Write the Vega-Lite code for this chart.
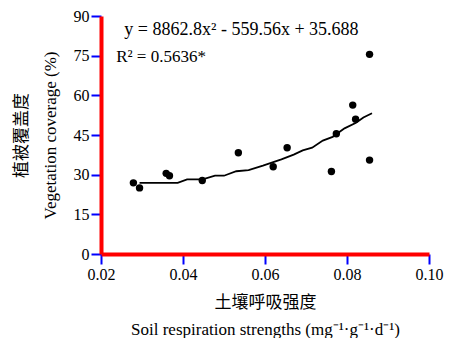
{
  "$schema": "https://vega.github.io/schema/vega-lite/v6.json",
  "width": 328,
  "height": 238,
  "autosize": "none",
  "padding": {"left": 101, "top": 16, "right": 29, "bottom": 84},
  "background": "white",
  "view": {"stroke": null},
  "datasets": {
    "pts": [
      {"x": 0.0279, "y": 26.9},
      {"x": 0.0294, "y": 25.0},
      {"x": 0.0359, "y": 30.5},
      {"x": 0.0367, "y": 29.6},
      {"x": 0.0447, "y": 27.8},
      {"x": 0.0535, "y": 38.3},
      {"x": 0.0620, "y": 33.0},
      {"x": 0.0654, "y": 40.2},
      {"x": 0.0762, "y": 31.2},
      {"x": 0.0774, "y": 45.5},
      {"x": 0.0814, "y": 56.3},
      {"x": 0.0821, "y": 51.0},
      {"x": 0.0855, "y": 75.5},
      {"x": 0.0855, "y": 35.5}
    ],
    "fit": [
      {"x": 0.0294, "y": 26.9},
      {"x": 0.0387, "y": 26.9},
      {"x": 0.0410, "y": 28.2},
      {"x": 0.0448, "y": 28.2},
      {"x": 0.0478, "y": 29.6},
      {"x": 0.0500, "y": 29.6},
      {"x": 0.0530, "y": 31.3},
      {"x": 0.0560, "y": 31.7},
      {"x": 0.0595, "y": 33.4},
      {"x": 0.0640, "y": 35.8},
      {"x": 0.0670, "y": 37.6},
      {"x": 0.0692, "y": 39.2},
      {"x": 0.0715, "y": 40.2},
      {"x": 0.0741, "y": 42.9},
      {"x": 0.0765, "y": 44.3},
      {"x": 0.0794, "y": 47.5},
      {"x": 0.0822, "y": 49.6},
      {"x": 0.0840, "y": 51.6},
      {"x": 0.0861, "y": 53.2}
    ],
    "notes": [
      {"x": 0.0257, "y": 82.7, "t": "y = 8862.8x² - 559.56x + 35.688", "s": 18},
      {"x": 0.0237, "y": 72.7, "t": "R² = 0.5636*", "s": 17}
    ]
  },
  "encoding": {
    "x": {
      "field": "x", "type": "quantitative",
      "scale": {"domain": [0.02, 0.10], "nice": false, "zero": false},
      "axis": {
        "values": [0.02, 0.04, 0.06, 0.08, 0.10],
        "format": ".2f",
        "domainColor": "red",
        "domainWidth": 4,
        "tickColor": "blue",
        "tickWidth": 2,
        "tickSize": 10,
        "grid": false,
        "labelFont": "Liberation Serif",
        "labelFontSize": 16,
        "labelColor": "black",
        "labelOverlap": false,
        "labelFlush": false,
        "labelPadding": 2,
        "title": ["土壤呼吸强度", "Soil respiration strengths (mg⁻¹·g⁻¹·d⁻¹)"],
        "titleFont": "Liberation Serif, Noto Sans CJK SC",
        "titleFontSize": 17,
        "titleFontWeight": "normal",
        "titleColor": "black",
        "titlePadding": 12,
        "titleLineHeight": 27
      }
    },
    "y": {
      "field": "y", "type": "quantitative",
      "scale": {"domain": [0, 90], "nice": false},
      "axis": {
        "values": [0, 15, 30, 45, 60, 75, 90],
        "domainColor": "red",
        "domainWidth": 4,
        "tickColor": "blue",
        "tickWidth": 2,
        "tickSize": 10,
        "grid": false,
        "labelFont": "Liberation Serif",
        "labelFontSize": 16,
        "labelColor": "black",
        "labelOverlap": false,
        "labelPadding": 2,
        "title": ["植被覆盖度", "Vegetation coverage (%)"],
        "titleFont": "Liberation Serif, Noto Sans CJK SC",
        "titleFontSize": 17,
        "titleFontWeight": "normal",
        "titleColor": "black",
        "titlePadding": 14,
        "titleLineHeight": 29
      }
    }
  },
  "layer": [
    {
      "data": {"name": "fit"},
      "mark": {"type": "line", "color": "black", "strokeWidth": 1.8}
    },
    {
      "data": {"name": "pts"},
      "mark": {"type": "circle", "color": "black", "opacity": 1, "size": 55}
    },
    {
      "data": {"name": "notes"},
      "mark": {"type": "text", "align": "left", "baseline": "alphabetic", "font": "Liberation Serif", "color": "black"},
      "encoding": {
        "text": {"field": "t"},
        "size": {"field": "s", "type": "quantitative", "scale": null}
      }
    }
  ]
}
